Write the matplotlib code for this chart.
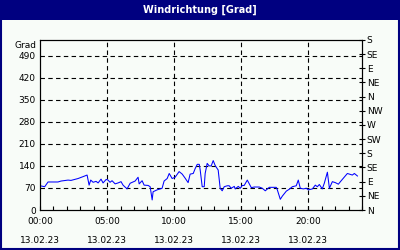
import matplotlib
matplotlib.use("Agg")
import matplotlib.pyplot as plt
from matplotlib.patches import Rectangle
from matplotlib.ticker import MultipleLocator

# wind direction, hours since 00:00 on 13.02.23
hours = [0.0, 0.35, 0.6, 1.34, 1.57, 2.09, 2.31, 2.84, 3.21, 3.51, 3.66, 3.78,
         3.96, 4.18, 4.33, 4.55, 4.70, 4.93, 5.07, 5.22, 5.37, 5.60, 5.82, 6.04,
         6.19, 6.49, 6.72, 7.09, 7.31, 7.39, 7.61, 7.76, 8.06, 8.21, 8.36, 8.43,
         8.73, 8.96, 9.10, 9.25, 9.48, 9.63, 9.85, 10.07, 10.37, 10.60, 10.82,
         11.04, 11.19, 11.42, 11.57, 11.72, 11.87, 11.94, 12.09, 12.24, 12.31,
         12.46, 12.61, 12.76, 12.91, 13.06, 13.28, 13.43, 13.58, 13.73, 13.96,
         14.10, 14.25, 14.48, 14.55, 14.78, 14.93, 15.07, 15.22, 15.45, 15.75,
         15.97, 16.34, 16.57, 16.79, 17.09, 17.61, 17.69, 17.91, 18.06, 18.36,
         18.58, 18.81, 19.10, 19.25, 19.40, 19.63, 19.85, 20.00, 20.30, 20.52,
         20.67, 20.82, 21.04, 21.19, 21.42, 21.57, 21.79, 22.01, 22.24, 22.39,
         22.61, 22.91, 23.06, 23.28, 23.43, 23.66]
grad = [77, 74, 89, 89, 92, 95, 94, 100, 106, 111, 79, 95,
        88, 91, 86, 98, 86, 97, 95, 88, 93, 83, 86, 90,
        79, 67, 85, 92, 104, 83, 93, 79, 78, 74, 32, 58,
        64, 67, 69, 92, 100, 116, 100, 104, 122, 114, 101,
        87, 114, 116, 132, 145, 145, 127, 74, 74, 116,
        148, 140, 140, 157, 141, 127, 69, 61, 74, 77,
        77, 69, 75, 67, 75, 69, 78, 78, 95, 71,
        73, 73, 69, 61, 72, 72, 64, 34, 44, 60,
        66, 74, 77, 95, 69, 67, 69, 64, 67, 79,
        74, 81, 67, 85, 120, 69, 90, 87, 82, 90,
        101, 116, 114, 111, 116, 108]

left_ticks = [0, 70, 140, 210, 280, 350, 420, 490]
dir_ticks = [0, 45, 90, 135, 180, 225, 270, 315, 360, 405, 450, 495, 540]
dir_labels = ["N", "NE", "E", "SE", "S", "SW", "W", "NW", "N", "NE", "E", "SE", "S"]
time_ticks = [0, 5, 10, 15, 20]
time_labels = ["00:00", "05:00", "10:00", "15:00", "20:00"]
date_label = "13.02.23"

navy = "#000080"
bg = "#F8FCF8"
fs = 6.5

fig = plt.figure(figsize=(4, 2.5), dpi=100, facecolor=bg)

# title bar and border
fig.patches.append(Rectangle((0, 1 - 20 / 250), 1, 20 / 250, transform=fig.transFigure,
                             facecolor=navy, edgecolor="none", zorder=0))
fig.patches.append(Rectangle((0.5 / 400, 0.75 / 250), 1 - 2 / 400, 1 - 1.5 / 250,
                             transform=fig.transFigure, facecolor="none",
                             edgecolor=navy, linewidth=1.5, zorder=5))
fig.text(0.5, 1 - 10 / 250, "Windrichtung [Grad]", color="white", fontsize=7,
         fontweight="bold", ha="center", va="center")

ax = fig.add_axes([40 / 400, 40 / 250, 322 / 400, 170 / 250])
ax.set_facecolor(bg)
ax.plot(hours, grad, color="#0000FF", linewidth=0.75, zorder=3)

ax.set_xlim(0, 24)
ax.set_ylim(0, 540)
ax.set_yticks(left_ticks)
ax.set_yticklabels([str(v) for v in left_ticks], fontsize=fs)
ax.tick_params(axis="y", length=0, pad=3)
ax.set_xticks(time_ticks)
ax.set_xticklabels([t + "\n" + date_label for t in time_labels],
                   fontsize=fs, linespacing=2.5)
ax.xaxis.set_minor_locator(MultipleLocator(1))
ax.tick_params(axis="x", which="both", direction="in", length=3, width=0.8, pad=5)

for v in left_ticks[1:]:
    ax.axhline(v, color="black", linestyle=(0, (4, 3)), linewidth=0.8, zorder=1)
for t in time_ticks[1:]:
    ax.axvline(t, color="black", linestyle=(0, (4, 3)), linewidth=0.8, zorder=1)

for s in ax.spines.values():
    s.set_linewidth(0.8)

ax.text(-0.25, 524, "Grad", fontsize=fs, ha="right", va="center")

ax2 = ax.twinx()
ax2.set_ylim(0, 540)
ax2.set_yticks(dir_ticks)
ax2.set_yticklabels(dir_labels, fontsize=fs)
ax2.tick_params(axis="y", direction="inout", length=5, width=0.8, pad=1)

fig.savefig("out.png", dpi=100, facecolor=bg)
